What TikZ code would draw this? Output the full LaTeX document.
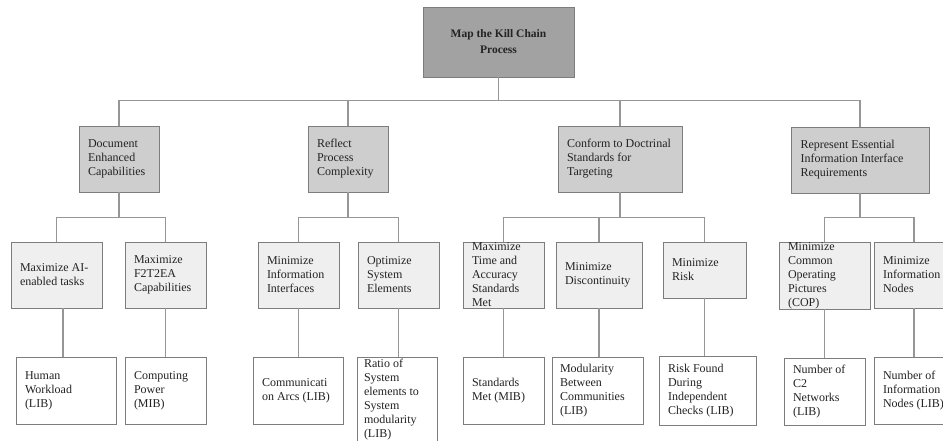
\documentclass[tikz,border=0pt]{standalone}
\usepackage{fontspec}
\setmainfont{Liberation Serif}
\definecolor{topfill}{RGB}{162,162,162}
\definecolor{midfill}{RGB}{206,206,206}
\definecolor{lowfill}{RGB}{239,239,239}
\definecolor{edge}{RGB}{125,125,125}
\definecolor{wire}{RGB}{150,150,150}
\definecolor{ink}{RGB}{35,35,35}
% left-aligned text block of fixed height, centred vertically (may overflow)
\newcommand\bt[3]{\parbox[c][#2pt][c]{#1pt}{\raggedright #3}}
\tikzset{
  box/.style={draw=edge, line width=0.9pt, inner sep=0pt, text=ink,
    font=\fontsize{12}{14}\selectfont},
  topbox/.style={box, fill=topfill, font=\fontsize{11.5}{16}\selectfont\bfseries, align=center},
  goalbox/.style={box, fill=midfill},
  subbox/.style={box, fill=lowfill},
  leafbox/.style={box, fill=white},
  sz/.style 2 args={minimum width=#1pt, minimum height=#2pt},
  conn/.style={draw=wire, line width=1.3pt}
}
\begin{document}
\begin{tikzpicture}[x=1pt, y=-1pt]
\useasboundingbox (0,0) rectangle (943,441);
\clip (0,0) rectangle (943,441);

% root
\node[topbox, sz={151}{70}] (root) at (498.5,42) {Map the Kill Chain\\Process};

% second level
\node[goalbox, sz={80}{66}]  (dec)  at (119,159) {\bt{62}{66}{Document\\Enhanced\\Capabilities}};
\node[goalbox, sz={80}{66}]  (rpc)  at (348,159) {\bt{62}{66}{Reflect\\Process\\Complexity}};
\node[goalbox, sz={124}{66}] (cds)  at (620,159) {\bt{106}{66}{Conform to Doctrinal\\Standards for\\Targeting}};
\node[goalbox, sz={138}{66}] (reir) at (860,160) {\bt{119}{66}{Represent Essential\\Information Interface\\Requirements}};

% third level
\node[subbox, sz={91}{66}] (ai)  at (56.5,275)  {\bt{73}{66}{Maximize AI-\\enabled tasks}};
\node[subbox, sz={81}{66}] (f2)  at (165.5,275) {\bt{63}{66}{Maximize\\F2T2EA\\Capabilities}};
\node[subbox, sz={81}{66}] (mii) at (298.5,275) {\bt{63}{66}{Minimize\\Information\\Interfaces}};
\node[subbox, sz={81}{66}] (ose) at (398.5,275) {\bt{63}{66}{Optimize\\System\\Elements}};
\node[subbox, sz={81}{66}] (mta) at (503.5,275) {\bt{63}{66}{Maximize\\Time and\\Accuracy\\Standards\\Met}};
\node[subbox, sz={86}{66}] (md)  at (599,275)   {\bt{68}{66}{Minimize\\Discontinuity}};
\node[subbox, sz={83}{56}] (mr)  at (704.5,270) {\bt{65}{56}{Minimize\\Risk}};
\node[subbox, sz={91}{67}] (cop) at (824.5,275.5) {\bt{73}{67}{Minimize\\Common\\Operating\\Pictures\\(COP)}};
\node[subbox, sz={80}{66}] (mni) at (914,275)   {\bt{62}{66}{Minimize\\Information\\Nodes}};

% measures
\node[leafbox, sz={100}{67}] (hw)  at (66,390.5)    {\bt{82}{67}{Human\\Workload\\(LIB)}};
\node[leafbox, sz={81}{67}]  (cp)  at (165.5,390.5) {\bt{63}{67}{Computing\\Power\\(MIB)}};
\node[leafbox, sz={90}{67}]  (ca)  at (298,390.5)   {\bt{72}{67}{Communicati\\on Arcs (LIB)}};
\node[leafbox, sz={80}{86}]  (rs)  at (397,400)     {\bt{66}{86}{Ratio of\\System\\elements to\\System\\modularity\\(LIB)}};
\node[leafbox, sz={81}{67}]  (sm)  at (503.5,390.5) {\bt{63}{67}{Standards\\Met (MIB)}};
\node[leafbox, sz={91}{67}]  (mbc) at (597.5,390.5) {\bt{75}{67}{Modularity\\Between\\Communities\\(LIB)}};
\node[leafbox, sz={97}{69}]  (rf)  at (707.5,390.5) {\bt{79}{69}{Risk Found\\During\\Independent\\Checks (LIB)}};
\node[leafbox, sz={81}{67}]  (c2)  at (824.5,391.5) {\bt{63}{67}{Number of\\C2\\Networks\\(LIB)}};
\node[leafbox, sz={80}{67}]  (nin) at (914,390.5)   {\bt{62}{67}{Number of\\Information\\Nodes (LIB)}};

% root to goals
\path (root.south) ++(0,23) coordinate (bus0);
\draw[conn] (root.south) -- (bus0);
\foreach \g in {dec,rpc,cds,reir} \draw[conn] (\g.north) |- (bus0);

% goals to objectives
\path (dec.south) ++(0,25) coordinate (bus1);
\draw[conn] (dec.south) -- (bus1);
\foreach \s in {ai,f2} \draw[conn] (\s.north) |- (bus1);

\path (rpc.south) ++(0,25) coordinate (bus2);
\draw[conn] (rpc.south) -- (bus2);
\foreach \s in {mii,ose} \draw[conn] (\s.north) |- (bus2);

\path (cds.south) ++(0,25) coordinate (bus3);
\draw[conn] (cds.south) -- (bus3);
\foreach \s in {mta,md,mr} \draw[conn] (\s.north) |- (bus3);

\path (reir.south) ++(0,24) coordinate (bus4);
\draw[conn] (reir.south) -- (bus4);
\foreach \s in {cop,mni} \draw[conn] (\s.north) |- (bus4);

% objectives to measures
\draw[conn] ([xshift=6.5pt]ai.south) -- ([xshift=6.5pt]ai.south |- hw.north);
\foreach \a/\b in {f2/cp,mii/ca,ose/rs,mta/sm,md/mbc,mr/rf,cop/c2,mni/nin}
  \draw[conn] (\a.south) -- (\a.south |- \b.north);
\end{tikzpicture}
\end{document}
